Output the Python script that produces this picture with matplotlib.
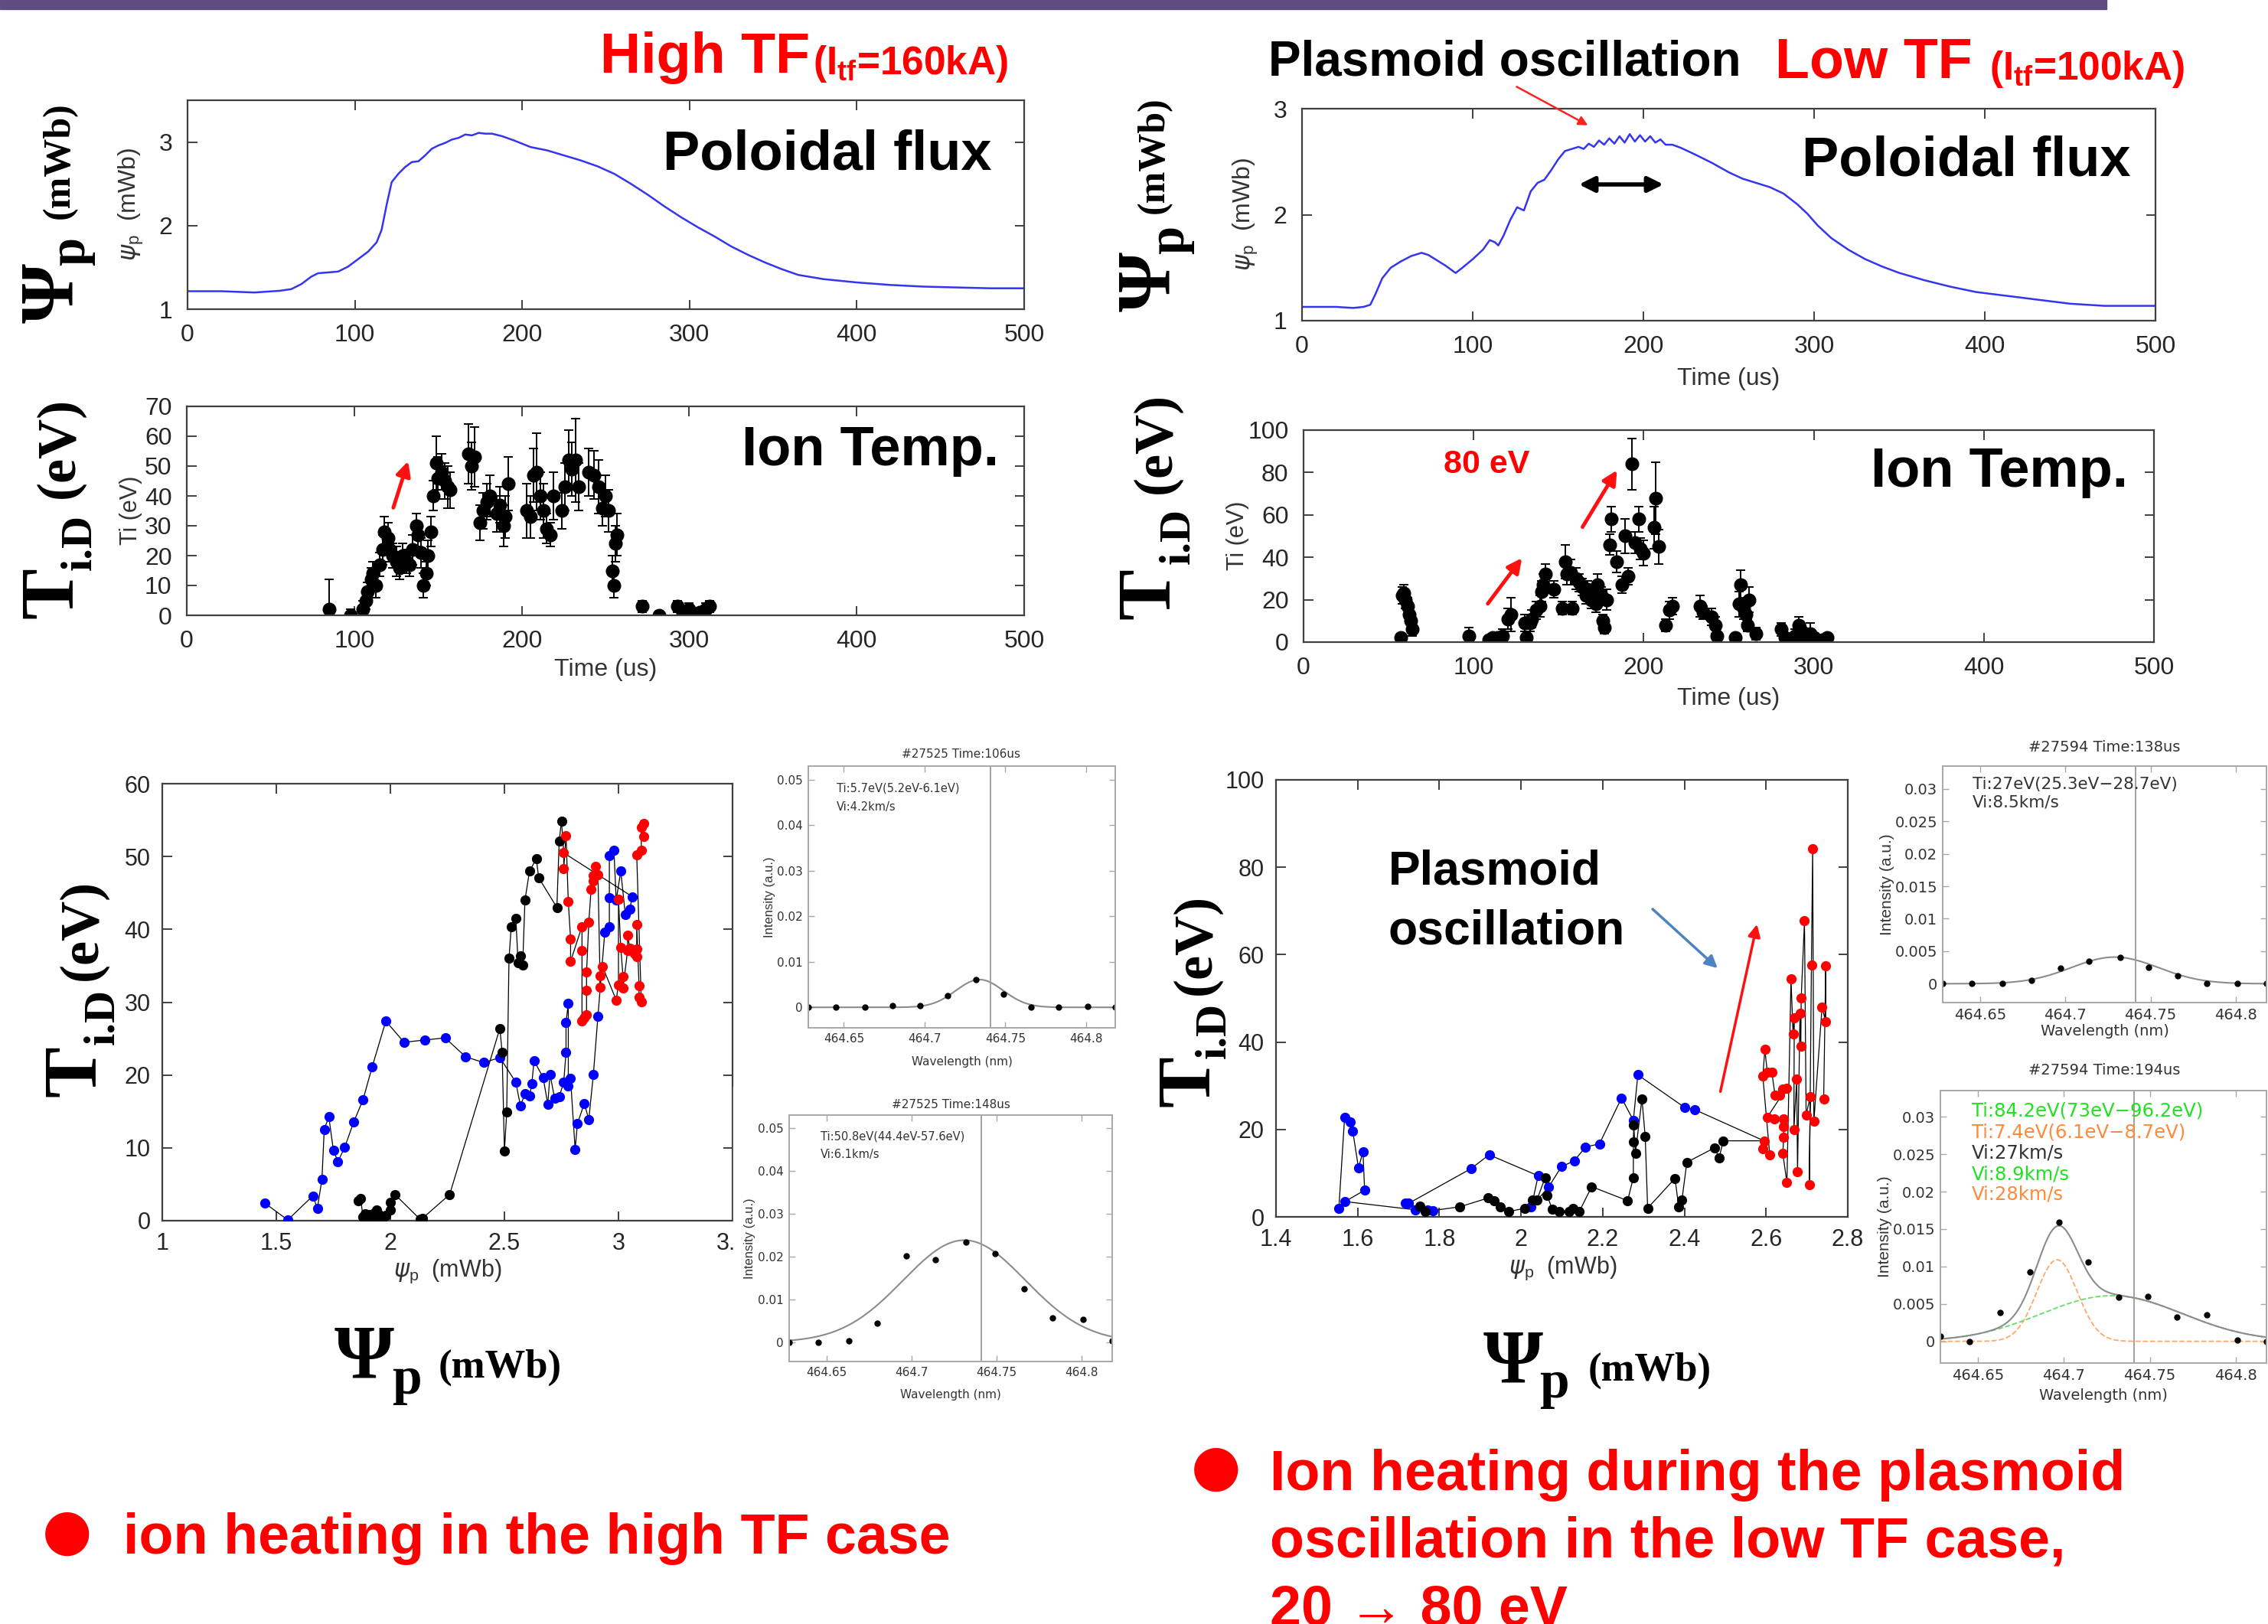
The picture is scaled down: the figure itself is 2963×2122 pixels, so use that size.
import numpy as np
import matplotlib.pyplot as plt
from matplotlib.patches import Rectangle, FancyArrowPatch

W, H = 2963, 2122

# ---- poloidal flux vs time (us, mWb) ----
t_flux_hi = [0, 20, 40, 55, 62, 68, 74, 78, 84, 90, 96, 102, 108, 113, 116, 119, 122, 126, 130,
             134, 138, 142, 146, 150, 154, 158, 162, 166, 170, 174, 178, 182, 188, 195, 205, 215,
             225, 235, 245, 255, 265, 275, 285, 295, 305, 315, 325, 335, 345, 355, 365, 380, 400,
             420, 440, 460, 480, 500]
psi_hi = [1.215, 1.215, 1.20, 1.22, 1.24, 1.30, 1.39, 1.43, 1.44, 1.45, 1.51, 1.60, 1.69, 1.80,
          1.95, 2.25, 2.52, 2.62, 2.70, 2.76, 2.77, 2.84, 2.92, 2.96, 2.99, 3.03, 3.05, 3.09, 3.08,
          3.11, 3.10, 3.10, 3.07, 3.02, 2.94, 2.90, 2.84, 2.78, 2.71, 2.62, 2.50, 2.37, 2.23, 2.10,
          1.98, 1.87, 1.75, 1.65, 1.56, 1.48, 1.41, 1.36, 1.32, 1.29, 1.27, 1.26, 1.25, 1.25]

t_flux_lo = [0, 20, 30, 36, 40, 43, 47, 52, 58, 64, 70, 74, 78, 84, 90, 94, 100, 106, 110, 113,
             115, 118, 122, 126, 130, 134, 138, 142, 146, 150, 154, 158, 162, 165, 168, 171, 174,
             177, 180, 183, 186, 189, 192, 195, 198, 201, 204, 207, 210, 213, 217, 222, 230, 240,
             250, 258, 266, 274, 282, 290, 296, 302, 310, 320, 330, 340, 350, 365, 380, 395, 410,
             430, 450, 470, 485, 500]
psi_lo = [1.13, 1.13, 1.12, 1.13, 1.15, 1.25, 1.40, 1.50, 1.56, 1.61, 1.64, 1.62, 1.58, 1.52,
          1.45, 1.50, 1.58, 1.67, 1.76, 1.74, 1.71, 1.80, 1.95, 2.07, 2.04, 2.22, 2.30, 2.33, 2.42,
          2.52, 2.60, 2.62, 2.64, 2.62, 2.67, 2.64, 2.70, 2.66, 2.72, 2.67, 2.74, 2.68, 2.76, 2.69,
          2.75, 2.69, 2.74, 2.68, 2.71, 2.66, 2.66, 2.63, 2.57, 2.49, 2.40, 2.34, 2.30, 2.26, 2.20,
          2.10, 2.01, 1.90, 1.78, 1.67, 1.58, 1.51, 1.45, 1.38, 1.32, 1.27, 1.24, 1.20, 1.16, 1.14,
          1.14, 1.14]

# ---- ion temperature vs time (us, eV) ----
t_ti_hi = [85, 98, 105, 107, 108, 110, 111, 113, 115, 117, 118, 120, 121, 123, 125, 127, 129, 131,
           133, 135, 137, 138, 140, 141, 143, 144, 146, 147, 149, 150, 152, 154, 156, 157, 168, 170,
           172, 175, 177, 179, 181, 185, 187, 189, 190, 192, 203, 205, 207, 209, 211, 213, 215, 217,
           219, 224, 226, 228, 230, 232, 234, 240, 243, 246, 248, 250, 252, 254, 255, 256, 257, 272,
           282, 293, 296, 298, 300, 303, 306, 310, 312]
ti_hi = [2, 0, 2, 5, 8, 12, 14, 10, 17, 22, 28, 26, 22, 20, 18, 16, 20, 18, 17, 22, 30, 27, 21, 10,
         14, 20, 28, 40, 51, 46, 48, 45, 43, 42, 54, 50, 53, 31, 35, 38, 40, 34, 37, 30, 33, 44, 35,
         33, 47, 48, 40, 35, 29, 27, 40, 35, 43, 52, 49, 52, 43, 48, 47, 43, 36, 40, 35, 15, 10, 24,
         27, 3, 0, 3, 1, 0, 2, 0, 1, 2, 3]
ti_hi_err = [10, 2, 3, 3, 3, 4, 4, 4, 4, 5, 5, 5, 4, 4, 5, 4, 4, 4, 4, 5, 4, 4, 5, 4, 4, 5, 5, 5, 9,
             7, 6, 6, 7, 6, 10, 8, 10, 6, 6, 6, 7, 6, 6, 7, 7, 9, 9, 7, 9, 13, 8, 9, 5, 4, 8, 6, 8,
             10, 9, 14, 8, 8, 8, 9, 6, 7, 7, 5, 4, 6, 7, 2, 1, 2, 2, 1, 2, 1, 1, 2, 2]

t_ti_lo = [57, 58, 59, 60, 61, 62, 63, 64, 97, 109, 111, 114, 117, 120, 122, 130, 131, 133, 134,
           137, 139, 140, 141, 142, 147, 152, 154, 155, 157, 158, 160, 162, 164, 166, 167, 169, 170,
           172, 173, 175, 176, 177, 178, 180, 181, 184, 187, 189, 191, 193, 195, 197, 198, 200, 206,
           207, 209, 213, 215, 217, 233, 235, 240, 242, 243, 254, 256, 257, 259, 260, 261, 262, 266,
           281, 283, 286, 289, 291, 293, 295, 298, 300, 305, 308]
ti_lo = [2, 22, 23, 20, 17, 13, 10, 6, 3, 1, 2, 2, 3, 11, 13, 9, 2, 9, 11, 15, 17, 24, 27, 32, 25,
         16, 38, 32, 33, 16, 30, 28, 26, 22, 25, 20, 22, 18, 27, 22, 10, 7, 20, 46, 58, 38, 27, 50,
         31, 84, 47, 58, 44, 42, 54, 68, 45, 8, 15, 17, 17, 14, 12, 8, 3, 2, 18, 27, 16, 13, 8, 20,
         4, 6, 2, 1, 3, 8, 5, 2, 4, 2, 1, 2]
ti_lo_err = [2, 4, 4, 4, 4, 4, 4, 3, 4, 2, 2, 2, 3, 5, 8, 4, 2, 4, 4, 4, 5, 5, 5, 5, 4, 3, 8, 5, 6,
             3, 5, 4, 4, 4, 4, 4, 4, 4, 5, 4, 3, 3, 5, 5, 6, 5, 4, 8, 4, 12, 5, 6, 5, 6, 10, 17, 8,
             3, 4, 4, 5, 3, 4, 4, 3, 2, 6, 7, 5, 4, 3, 6, 3, 3, 2, 2, 3, 4, 3, 2, 5, 2, 2, 2]

# ---- Ti vs poloidal flux, high TF (mWb, eV) ----
hi_blue_psi = [1.45, 1.55, 1.66, 1.68, 1.70, 1.71, 1.73, 1.75, 1.77, 1.80, 1.84, 1.88, 1.92, 1.98,
               2.06, 2.15, 2.24, 2.33, 2.41, 2.48, 2.55, 2.57, 2.59, 2.61, 2.62, 2.63, 2.67, 2.69,
               2.70, 2.72, 2.74, 2.76, 2.77, 2.77, 2.78, 2.78, 2.79, 2.81, 2.82, 2.85, 2.87, 2.89,
               2.91, 2.94, 2.96, 2.96, 2.96, 2.98, 2.99, 3.01, 3.03, 3.05, 3.06]
hi_blue_ti = [2.4, 0.1, 3.4, 1.7, 5.7, 12.5, 14.3, 9.7, 8.1, 10.1, 13.6, 16.6, 21.1, 27.4, 24.5,
              24.8, 25.1, 22.5, 21.7, 22.4, 19.0, 15.8, 17.4, 17.1, 18.8, 22.0, 19.6, 16.0, 20.1,
              16.8, 17.0, 19.0, 23.1, 27.2, 29.8, 18.5, 19.5, 9.8, 13.3, 16.1, 13.9, 20.1, 28.1,
              39.6, 40.3, 44.3, 50.1, 50.9, 44.0, 48.0, 42.0, 42.8, 44.5]
hi_black_psi = [1.86, 1.87, 1.88, 1.89, 1.90, 1.91, 1.92, 1.93, 1.94, 1.95, 1.96, 1.97, 1.98, 2.00,
                2.00, 2.02, 2.13, 2.14, 2.26, 2.48, 2.49, 2.50, 2.51, 2.52, 2.53, 2.55, 2.56, 2.57,
                2.58, 2.59, 2.61, 2.64, 2.65, 2.73, 2.74, 2.75]
hi_black_ti = [2.7, 3.0, 0.5, 0.9, 0.3, 0.8, 0.3, 1.0, 1.5, 0.8, 0.2, 0.5, 0.7, 2.5, 1.5, 3.6, 0.2,
               0.3, 3.6, 26.4, 23.1, 9.6, 14.9, 36.0, 40.4, 41.5, 35.4, 36.4, 35.1, 44.0, 48.0,
               49.7, 47.1, 43.0, 52.1, 54.9]
hi_red_psi = [2.76, 2.76, 2.77, 2.78, 2.79, 2.79, 2.84, 2.84, 2.84, 2.85, 2.86, 2.86, 2.86, 2.87,
              2.88, 2.89, 2.89, 2.90, 2.91, 2.92, 2.92, 2.93, 2.99, 3.00, 3.00, 3.01, 3.02, 3.02,
              3.04, 3.04, 3.05, 3.07, 3.08, 3.08, 3.08, 3.09, 3.09, 3.10, 3.08, 3.10, 3.10, 3.11,
              3.11]
hi_red_ti = [50.5, 48.3, 52.9, 43.8, 38.7, 35.6, 40.4, 37.1, 27.4, 27.8, 28.3, 31.6, 34.1, 41.0,
             45.5, 46.7, 47.4, 48.6, 47.5, 32.1, 33.6, 34.9, 30.3, 32.4, 44.1, 37.5, 33.5, 31.9,
             37.1, 39.2, 37.4, 36.7, 37.3, 36.2, 40.7, 32.3, 30.7, 30.1, 50.2, 50.9, 54.0, 52.8,
             54.5]

# ---- Ti vs poloidal flux, low TF (mWb, eV) ----
lo_blue_psi = [1.554, 1.568, 1.582, 1.588, 1.602, 1.613, 1.617, 1.569, 1.742, 1.771, 1.785, 1.716,
               1.725, 1.877, 1.922, 2.042, 2.025, 2.068, 2.099, 2.130, 2.158, 2.192, 2.246, 2.275,
               2.286, 2.401, 2.426]
lo_blue_ti = [2.0, 22.8, 21.8, 19.6, 11.2, 14.9, 6.1, 3.5, 1.6, 1.6, 1.4, 3.1, 3.1, 11.0, 14.2, 9.4,
              2.2, 6.9, 11.5, 12.8, 16.0, 16.7, 27.2, 22.1, 32.5, 25.0, 24.5]
lo_black_psi = [1.753, 1.765, 1.850, 1.919, 1.934, 1.950, 1.970, 2.010, 2.027, 2.039, 2.059, 2.064,
                2.076, 2.093, 2.118, 2.127, 2.143, 2.173, 2.261, 2.275, 2.275, 2.276, 2.280, 2.296,
                2.304, 2.310, 2.377, 2.386, 2.394, 2.406, 2.474, 2.485, 2.495]
lo_black_ti = [2.5, 1.2, 2.3, 4.3, 3.7, 2.3, 1.2, 2.0, 3.9, 3.9, 9.0, 4.9, 1.8, 1.2, 1.2, 2.0, 1.3,
               6.9, 3.7, 9.0, 17.2, 21.0, 14.5, 27.0, 18.4, 2.0, 8.8, 2.3, 3.9, 12.5, 15.8, 13.5,
               17.4]
lo_red_psi = [2.595, 2.592, 2.609, 2.592, 2.597, 2.603, 2.614, 2.622, 2.634, 2.641, 2.650, 2.603,
              2.620, 2.643, 2.643, 2.643, 2.641, 2.651, 2.661, 2.666, 2.669, 2.668, 2.675, 2.677,
              2.683, 2.685, 2.686, 2.694, 2.698, 2.708, 2.706, 2.711, 2.714, 2.717, 2.737, 2.746,
              2.746, 2.741]
lo_red_ti = [17.4, 15.6, 14.1, 32.2, 38.3, 33.1, 33.1, 27.8, 27.8, 29.3, 29.5, 22.8, 22.5, 22.5,
             20.7, 18.2, 14.5, 7.8, 54.4, 41.9, 45.6, 19.9, 31.5, 10.4, 46.6, 39.1, 50.1, 67.7, 23.3,
             27.5, 7.3, 57.7, 84.3, 21.9, 48.0, 44.6, 57.5, 27.0]

# ---- CII spectra (nm, a.u.) ----
wavelength = [464.628, 464.645, 464.663, 464.680, 464.697, 464.714, 464.732, 464.749, 464.766,
              464.783, 464.801, 464.818]
spec_106 = [0.0, 0.0, 0.0001, 0.0004, 0.0003, 0.0025, 0.0061, 0.0029, 0.0001, 0.0, 0.0002, 0.0]
spec_148 = [0.0, 0.0, 0.0003, 0.0044, 0.0201, 0.0193, 0.0233, 0.0206, 0.0124, 0.0056, 0.0053, 0.0003]
spec_138 = [0.0, 0.0, 0.0, 0.0005, 0.0024, 0.0035, 0.0041, 0.0025, 0.0012, 0.0001, 0.0001, 0.0001]
spec_194 = [0.0007, 0.0, 0.0038, 0.0093, 0.0159, 0.0106, 0.0059, 0.0060, 0.0032, 0.0035, 0.0002, 0.0]
# gaussian fit parameters: (centre nm, amplitude, sigma nm)
fit_106 = (464.734, 0.0061, 0.0146)
fit_148 = (464.731, 0.0238, 0.0360)
fit_138 = (464.729, 0.0041, 0.0255)
fit_194_slow = (464.696, 0.0109, 0.0118)
fit_194_fast = (464.728, 0.0061, 0.0410)
lambda0 = 464.741

SANS = 'Liberation Sans'
SERIF = 'Liberation Serif'
plt.rcParams['font.family'] = [SANS, 'DejaVu Sans']
plt.rcParams['mathtext.fontset'] = 'dejavusans'
plt.rcParams['mathtext.bf'] = 'Liberation Sans:bold'
plt.rcParams['mathtext.rm'] = 'Liberation Sans:bold'

fig = plt.figure(figsize=(W / 100, H / 100), dpi=100)


def fpos(x, y):
    return (x / W, 1 - y / H)


def add_ax(l, t, r, b, **kw):
    return fig.add_axes([l / W, 1 - b / H, (r - l) / W, (b - t) / H], **kw)


def matlab_look(ax, size, pad, edge='#404040'):
    for s in ax.spines.values():
        s.set_color(edge)
        s.set_linewidth(1.6)
    ax.tick_params(direction='in', top=True, right=True, length=9, width=1.4,
                   color=edge, labelcolor='#262626', labelsize=size, pad=pad)


def gauss(x, p):
    c, a, s = p
    return a * np.exp(-0.5 * ((x - c) / s) ** 2)


def ftext(x, y, s, **kw):
    return fig.text(x / W, 1 - y / H, s, **kw)


def rtext(x, y, s, size, **kw):
    # rotated text: x = baseline position, y = centre along the text
    return fig.text(x / W, 1 - y / H, s, fontsize=size, rotation=90, rotation_mode='anchor',
                    ha='center', va='baseline', **kw)


def arrow(x0, y0, x1, y1, color, lw=3.5, head=28, style='-|>'):
    fig.add_artist(FancyArrowPatch(fpos(x0, y0), fpos(x1, y1), transform=fig.transFigure,
                                   arrowstyle=style, mutation_scale=head, color=color, lw=lw,
                                   zorder=10))


gfmt = plt.FuncFormatter(lambda v, p: f'{v:g}')
psi_label = r'$\psi_{\mathregular{p}}$  (mWb)'

# title bar
fig.add_artist(Rectangle((0, 1 - 12 / H), 2752 / W, 12 / H, transform=fig.transFigure,
                         color='#604C7E', zorder=0))

# ---------- top-left: poloidal flux, high TF ----------
ax1 = add_ax(245, 131, 1338, 404)
ax1.plot(t_flux_hi, psi_hi, color='#3535f0', lw=1.8)
ax1.set_xlim(0, 500)
ax1.set_ylim(1, 3.5)
ax1.set_xticks(range(0, 501, 100))
ax1.set_yticks([1, 2, 3])
matlab_look(ax1, 23, 14)
ax1.set_ylabel(psi_label, fontsize=23, color='#333333')
ax1.yaxis.set_label_coords(*fpos(190, 267), transform=fig.transFigure)

# ---------- top-left: ion temperature, high TF ----------
ax2 = add_ax(244, 531, 1338, 804)
ax2.errorbar(t_ti_hi, ti_hi, yerr=ti_hi_err, fmt='o', color='black', ms=12, capsize=4,
             elinewidth=1.4, capthick=1.4)
ax2.set_xlim(0, 500)
ax2.set_ylim(0, 70)
ax2.set_xticks(range(0, 501, 100))
ax2.set_yticks(range(0, 71, 10))
matlab_look(ax2, 23, 14)
ax2.set_ylabel('Ti (eV)', fontsize=22, color='#333333')
ax2.yaxis.set_label_coords(*fpos(186, 667), transform=fig.transFigure)
ax2.set_xlabel('Time (us)', fontsize=23, color='#333333')
ax2.xaxis.set_label_coords(*fpos(791, 860), transform=fig.transFigure)

# ---------- top-right: poloidal flux, low TF ----------
ax3 = add_ax(1701, 142, 2816, 419)
ax3.plot(t_flux_lo, psi_lo, color='#3535f0', lw=1.8)
ax3.set_xlim(0, 500)
ax3.set_ylim(1, 3)
ax3.set_xticks(range(0, 501, 100))
ax3.set_yticks([1, 2, 3])
matlab_look(ax3, 23, 14)
ax3.set_ylabel(psi_label, fontsize=23, color='#333333')
ax3.yaxis.set_label_coords(*fpos(1646, 280), transform=fig.transFigure)
ax3.set_xlabel('Time (us)', fontsize=23, color='#333333')
ax3.xaxis.set_label_coords(*fpos(2258, 480), transform=fig.transFigure)

# ---------- top-right: ion temperature, low TF ----------
ax4 = add_ax(1703, 562, 2814, 839)
ax4.errorbar(t_ti_lo, ti_lo, yerr=ti_lo_err, fmt='o', color='black', ms=12, capsize=4,
             elinewidth=1.4, capthick=1.4)
ax4.set_xlim(0, 500)
ax4.set_ylim(0, 100)
ax4.set_xticks(range(0, 501, 100))
ax4.set_yticks(range(0, 101, 20))
matlab_look(ax4, 23, 14)
ax4.set_ylabel('Ti (eV)', fontsize=22, color='#333333')
ax4.yaxis.set_label_coords(*fpos(1632, 700), transform=fig.transFigure)
ax4.set_xlabel('Time (us)', fontsize=23, color='#333333')
ax4.xaxis.set_label_coords(*fpos(2258, 898), transform=fig.transFigure)


# ---------- bottom: Ti vs psi ----------
def ti_psi(ax, groups, join):
    for xs, ys, col in groups:
        lx, ly = list(xs), list(ys)
        if join is not None and col != join[2]:
            lx.append(join[0][0])
            ly.append(join[1][0])
        ax.plot(lx, ly, color='black', lw=0.9, zorder=2)
        ax.plot(xs, ys, 'o', color=col, ms=8.5, mec=col, zorder=3)


ax5 = add_ax(212, 1024, 957, 1595)
red_hi = (hi_red_psi, hi_red_ti, '#ff0000')
ti_psi(ax5, [(hi_blue_psi, hi_blue_ti, '#0000ff'), (hi_black_psi, hi_black_ti, 'black'), red_hi],
       red_hi)
ax5.set_xlim(1, 3.5)
ax5.set_ylim(0, 60)
ax5.set_xticks(np.arange(1, 3.51, 0.5))
ax5.set_yticks(range(0, 61, 10))
ax5.xaxis.set_major_formatter(gfmt)
matlab_look(ax5, 22, 11)
ax5.set_xlabel(psi_label, fontsize=22, color='#333333')
ax5.xaxis.set_label_coords(*fpos(585, 1644), transform=fig.transFigure)

ax6 = add_ax(1667, 1019, 2414, 1590)
red_lo = (lo_red_psi, lo_red_ti, '#ff0000')
ti_psi(ax6, [(lo_blue_psi, lo_blue_ti, '#0000ff'), (lo_black_psi, lo_black_ti, 'black'), red_lo],
       red_lo)
ax6.set_xlim(1.4, 2.8)
ax6.set_ylim(0, 100)
ax6.set_xticks(np.arange(1.4, 2.81, 0.2))
ax6.set_yticks(range(0, 101, 20))
ax6.xaxis.set_major_formatter(gfmt)
matlab_look(ax6, 22, 11)
ax6.set_xlabel(psi_label, fontsize=22, color='#333333')
ax6.xaxis.set_label_coords(*fpos(2042, 1640), transform=fig.transFigure)

# white background of the pasted spectrum hides the last scatter tick label
fig.add_artist(Rectangle(fpos(958, 1840), (1470 - 958) / W, (1840 - 1420) / H,
                         transform=fig.transFigure, color='white', zorder=1))


# ---------- spectra ----------
def spectrum(box, values, fits, title, title_xy, notes, size, note_size, ylim, yticks,
             ylab_x, xlab_y):
    ax = add_ax(*box, zorder=2)
    fine = np.linspace(wavelength[0], wavelength[-1], 300)
    if len(fits) > 1:
        ax.plot(fine, gauss(fine, fits[0]), '--', color='#ffa868', lw=1.3)
        ax.plot(fine, gauss(fine, fits[1]), '--', color='#66dd66', lw=1.3)
    ax.plot(fine, sum(gauss(fine, f) for f in fits), color='#8c8c8c', lw=1.5)
    ax.axvline(lambda0, color='#9a9a9a', lw=1.3)
    ax.plot(wavelength, values, 'o', color='black', ms=5)
    ax.set_xlim(wavelength[0], wavelength[-1])
    ax.set_ylim(*ylim)
    ax.set_xticks([464.65, 464.7, 464.75, 464.8])
    ax.set_yticks(yticks)
    ax.xaxis.set_major_formatter(gfmt)
    ax.yaxis.set_major_formatter(gfmt)
    for s in ax.spines.values():
        s.set_color('#a8a8a8')
        s.set_linewidth(1.4)
    ax.tick_params(direction='in', top=True, right=True, length=6, width=1.0, color='#a8a8a8',
                   labelcolor='#333333', labelsize=size, pad=5)
    for lab in ax.get_xticklabels() + ax.get_yticklabels():
        lab.set_family('DejaVu Sans')
    ax.set_xlabel('Wavelength (nm)', fontsize=size, family='DejaVu Sans', color='#333333')
    ax.xaxis.set_label_coords(*fpos((box[0] + box[2]) / 2, xlab_y), transform=fig.transFigure)
    ax.set_ylabel('Intensity (a.u.)', fontsize=size + 1, color='#333333')
    ax.yaxis.set_label_coords(*fpos(ylab_x, (box[1] + box[3]) / 2), transform=fig.transFigure)
    ftext(*title_xy, title, fontsize=size, family='DejaVu Sans', color='#333333',
          ha='center', va='center')
    for x, y, s, col in notes:
        ftext(x, y, s, fontsize=note_size, family='DejaVu Sans', color=col, ha='left',
              va='center')
    return ax


spectrum((1056, 1001, 1457, 1343), spec_106, [fit_106], '#27525 Time:106us', (1256, 985),
         [(1093, 1030, 'Ti:5.7eV(5.2eV-6.1eV)', '#333333'), (1093, 1055, 'Vi:4.2km/s', '#333333')],
         11, 10.5, (-0.0045, 0.053), [0, 0.01, 0.02, 0.03, 0.04, 0.05], 1013, 1380)
spectrum((1031, 1457, 1453, 1779), spec_148, [fit_148], '#27525 Time:148us', (1242, 1443),
         [(1072, 1485, 'Ti:50.8eV(44.4eV-57.6eV)', '#333333'),
          (1072, 1508, 'Vi:6.1km/s', '#333333')],
         11, 10.5, (-0.0045, 0.053), [0, 0.01, 0.02, 0.03, 0.04, 0.05], 987, 1815)
spectrum((2538, 1001, 2961, 1310), spec_138, [fit_138], '#27594 Time:138us', (2749, 976),
         [(2577, 1025, 'Ti:27eV(25.3eV\u221228.7eV)', '#333333'),
          (2577, 1049, 'Vi:8.5km/s', '#333333')],
         14, 15.5, (-0.0029, 0.0335), [0, 0.005, 0.01, 0.015, 0.02, 0.025, 0.03], 2475, 1338)
spectrum((2535, 1425, 2961, 1781), spec_194, [fit_194_slow, fit_194_fast], '#27594 Time:194us',
         (2749, 1398),
         [(2576, 1452, 'Ti:84.2eV(73eV\u221296.2eV)', '#22e022'),
          (2576, 1479, 'Ti:7.4eV(6.1eV\u22128.7eV)', '#ff8a3c'),
          (2576, 1507, 'Vi:27km/s', '#333333'),
          (2576, 1534, 'Vi:8.9km/s', '#22e022'),
          (2576, 1561, 'Vi:28km/s', '#ff8a3c')],
         14, 17.5, (-0.0029, 0.0335), [0, 0.005, 0.01, 0.015, 0.02, 0.025, 0.03], 2472, 1814)

# ---------- slide annotations ----------
bold = dict(family=SANS, weight='bold')
ftext(1058, 95, 'High TF', fontsize=53, color='#ff0000', ha='right', va='baseline', **bold)
ftext(1062, 97, r'(I$_{\mathbf{tf}}$=160kA)', fontsize=37, color='#ff0000', ha='left',
      va='baseline', math_fontfamily='custom', **bold)
ftext(1657, 98, 'Plasmoid oscillation', fontsize=46, color='black', ha='left', va='baseline',
      **bold)
ftext(2319, 101, 'Low TF', fontsize=53, color='#ff0000', ha='left', va='baseline', **bold)
ftext(2599, 104, r'(I$_{\mathbf{tf}}$=100kA)', fontsize=37, color='#ff0000', ha='left',
      va='baseline', math_fontfamily='custom', **bold)

ftext(1296, 221, 'Poloidal flux', fontsize=52, ha='right', va='baseline', **bold)
ftext(1305, 608, 'Ion Temp.', fontsize=52, ha='right', va='baseline', **bold)
ftext(2784, 230, 'Poloidal flux', fontsize=52, ha='right', va='baseline', **bold)
ftext(2780, 636, 'Ion Temp.', fontsize=52, ha='right', va='baseline', **bold)
ftext(1886, 618, '80 eV', fontsize=31, color='#ff0000', ha='left', va='baseline', **bold)
ftext(1814, 1156, 'Plasmoid', fontsize=45, ha='left', va='baseline', **bold)
ftext(1814, 1234, 'oscillation', fontsize=45, ha='left', va='baseline', **bold)

arrow(1979, 112, 2077, 165, '#ff2020', lw=1.8, head=18)
arrow(2060, 241, 2176, 241, 'black', lw=4, head=30, style='<|-|>')
arrow(513, 666, 534, 600, '#ff1010')
arrow(1942, 791, 1990, 727, '#ff1010')
arrow(2066, 691, 2114, 612, '#ff1010')
arrow(2157, 1186, 2246, 1267, '#4f82c0', lw=2.5, head=24)
arrow(2247, 1429, 2296, 1205, '#ff1010', lw=2.5, head=24)

# big serif axis names
serif = dict(family=SERIF, weight='bold', color='black')
for bx, cy, by_p, cy_p, bx_u, cy_u in [(94, 383, 110, 328, 90, 210), (1527, 368, 1546, 313, 1520, 203)]:
    rtext(bx, cy, '\u03a8', 72, **serif)
    rtext(by_p, cy_p, 'p', 48, **serif)
    rtext(bx_u, cy_u, '(mWb)', 36, **serif)
for bx, cy, bx_s, cy_s, bx_u, cy_u in [(94, 775, 118, 708, 96, 585), (1527, 776, 1553, 700, 1529, 579),
                                       (124, 1400, 148, 1328, 126, 1215),
                                       (1579, 1413, 1600, 1346, 1581, 1234)]:
    rtext(bx, cy, 'T', 72, **serif)
    rtext(bx_s, cy_s, 'i.D', 42, **serif)
    rtext(bx_u, cy_u, '(eV)', 52, **serif)
for cx, by, cx_p, by_p, cx_u, by_u in [(476, 1800, 531, 1821, 653, 1800),
                                       (1977, 1805, 2030, 1826, 2155, 1804)]:
    ftext(cx, by, '\u03a8', fontsize=72, ha='center', va='baseline', **serif)
    ftext(cx_p, by_p, 'p', fontsize=50, ha='center', va='baseline', **serif)
    ftext(cx_u, by_u, '(mWb)', fontsize=38, ha='center', va='baseline', **serif)

# conclusions
ftext(88, 2003, '\u25cf', fontsize=54, color='#ff0000', ha='center', va='center',
      family='DejaVu Sans')
ftext(161, 2030, 'ion heating in the high TF case', fontsize=53, color='#ff0000', ha='left',
      va='baseline', **bold)
ftext(1589, 1919, '\u25cf', fontsize=54, color='#ff0000', ha='center', va='center',
      family='DejaVu Sans')
ftext(1659, 1947, 'Ion heating during the plasmoid', fontsize=53, color='#ff0000', ha='left',
      va='baseline', **bold)
ftext(1659, 2035, 'oscillation in the low TF case,', fontsize=53, color='#ff0000', ha='left',
      va='baseline', **bold)
ftext(1659, 2123, '20 \u2192 80 eV', fontsize=53, color='#ff0000', ha='left', va='baseline',
      family=[SANS, 'DejaVu Sans'], weight='bold')

fig.savefig('out.png', dpi=100, facecolor='white')
